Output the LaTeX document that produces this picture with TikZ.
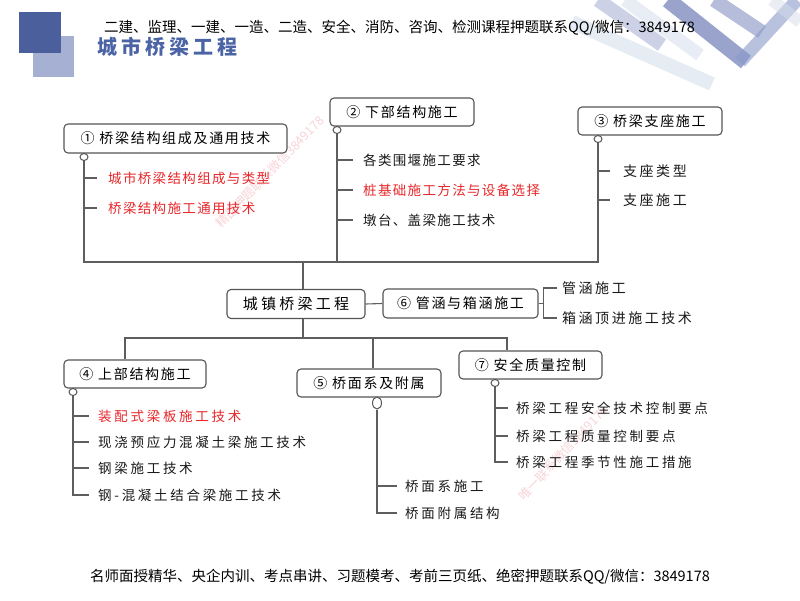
\documentclass[tikz,border=0pt]{standalone}
\usepackage{fontspec}
\setmainfont{Noto Sans CJK SC}
\usetikzlibrary{shapes.geometric}
\definecolor{boxc}{HTML}{555555}
\definecolor{linec}{HTML}{5E5E5E}
\definecolor{redc}{HTML}{E8262A}
\definecolor{titlec}{HTML}{4B64A6}
\definecolor{sqdark}{HTML}{4A5F9B}
\definecolor{sqlight}{HTML}{A5B0D2}
\definecolor{wmc}{HTML}{F0A0A8}
\definecolor{stA}{HTML}{C9D6E6}
\definecolor{stB}{HTML}{D3DAEA}
\definecolor{stC}{HTML}{8E9AC8}
\definecolor{stD}{HTML}{6E7DB5}
\definecolor{stE}{HTML}{7B88BF}
\definecolor{stF}{HTML}{8A9ACB}
\definecolor{stG}{HTML}{D6DCEA}
\newcommand\myls[1]{\addfontfeature{LetterSpace=#1}}
\newcommand\boxfont{\fontsize{14}{16}\selectfont\myls{12}}
\newcommand\itemfont{\fontsize{13.5}{16}\selectfont\myls{20}}
\newcommand\itemfonttop{\fontsize{13.5}{16}\selectfont\myls{10}}
\newcommand\itemfontmid{\fontsize{14}{16}\selectfont\myls{18}}
\begin{document}
\begin{tikzpicture}[x=1pt,y=-1pt,
  box/.style={draw=boxc, line width=1.1pt, rounded corners=4pt, fill=white,
    minimum height=28pt, inner sep=0pt, text=black, font=\boxfont},
  lnk/.style={draw=linec, line width=1.1pt},
  knob/.style={draw=boxc, line width=1pt, fill=white, ellipse,
    minimum width=8pt, minimum height=7pt, inner sep=0pt},
  item/.style={anchor=west, inner sep=0pt, text=black!90, font=\itemfont},
  itop/.style={item, font=\itemfonttop},
  imid/.style={item, font=\itemfontmid},
  hot/.style={text=redc},
  wm/.style={text=wmc, opacity=0.45, font=\fontsize{12.5}{14}\selectfont},
  stripe/.style={line cap=butt}
]
\useasboundingbox (0,0) rectangle (800,600);
\fill[white] (0,0) rectangle (800,600);

% decorative stripes
\draw[stripe, line width=14pt, draw=stA, opacity=0.45] (572,22) -- (712,84);
\draw[stripe, line width=13pt, draw=stB, opacity=0.5] (625,0) -- (700,55);
\draw[stripe, line width=14pt, draw=stC, opacity=0.45] (598,0) -- (662,45);
\draw[stripe, line width=16pt, draw=stD, opacity=0.7] (668,0) -- (746,62);
\draw[stripe, line width=14pt, draw=stE, opacity=0.55] (714,0) -- (762,32);
\draw[stripe, line width=13pt, draw=stF, opacity=0.6] (740,62) -- (797,0);
\draw[stripe, line width=12pt, draw=stG, opacity=0.5] (772,0) -- (800,22);

% corner squares
\fill[sqlight] (33,36) rectangle (74,77);
\fill[sqdark] (19,12) rectangle (61,53);

% header texts
\node[anchor=west, inner sep=0pt, font=\fontsize{14.5}{16}\selectfont] (hdr) at (104,28)
  {二建、监理、一建、一造、二造、安全、消防、咨询、检测课程押题联系QQ/微信：3849178};
\node[anchor=west, inner sep=0pt, text=titlec, font=\fontsize{20}{22}\selectfont\bfseries\myls{20}] (title) at (97,47)
  {城市桥梁工程};
\node[inner sep=0pt, font=\fontsize{14.5}{16}\selectfont] (ftr) at (400,577)
  {名师面授精华、央企内训、考点串讲、习题模考、考前三页纸、绝密押题联系QQ/微信：3849178};

% watermarks
\node[wm, rotate=46] (wm1) at (270,172) {精品押题联系微信3849178};
\node[wm, rotate=47] (wm2) at (563,453) {唯一联系微信3849178};

% boxes
\node[box, minimum width=223pt, minimum height=29pt] (n1) at (175.5,138.5) {① 桥梁结构组成及通用技术};
\node[box, minimum width=144pt] (n2) at (402,112) {② 下部结构施工};
\node[box, minimum width=144pt] (n3) at (650,121) {③ 桥梁支座施工};
\node[box, minimum width=138pt, minimum height=29pt, font=\fontsize{15}{17}\selectfont\myls{22}] (ctr) at (296,304) {城镇桥梁工程};
\node[box, minimum width=155pt, minimum height=29pt] (n6) at (460.5,303.5) {⑥ 管涵与箱涵施工};
\node[box, minimum width=142pt] (n4) at (135,374) {④ 上部结构施工};
\node[box, minimum width=144pt] (n5) at (369,383) {⑤ 桥面系及附属};
\node[box, minimum width=143pt] (n7) at (530.5,365) {⑦ 安全质量控制};

% bus coordinates
\coordinate (b1) at (303,262);
\coordinate (b2) at (303,338);
\coordinate (br) at ([xshift=5pt]n6.east);

% knobs
\node[knob] (k1) at (84,157) {};
\node[knob] (k2) at (337,130) {};
\node[knob] (k3) at (598,139) {};
\node[knob] (k4) at (73,392) {};
\node[knob, minimum width=9pt, minimum height=12pt] (k5) at (377,403) {};
\node[knob] (k7) at (495,383) {};

% items
\node[itop, hot] (s11) at (108,178) {城市桥梁结构组成与类型};
\node[itop, hot] (s12) at (108,208) {桥梁结构施工通用技术};
\node[itop] (s21) at (363,160) {各类围堰施工要求};
\node[itop, hot] (s22) at (363,190) {桩基础施工方法与设备选择};
\node[itop] (s23) at (363,220) {墩台、盖梁施工技术};
\node[imid] (s31) at (623,171) {支座类型};
\node[imid] (s32) at (623,200) {支座施工};
\node[imid] (s61) at (562,288) {管涵施工};
\node[imid] (s62) at (562,318) {箱涵顶进施工技术};
\node[item, hot] (s41) at (98,416) {装配式梁板施工技术};
\node[item] (s42) at (98,442) {现浇预应力混凝土梁施工技术};
\node[item] (s43) at (98,468) {钢梁施工技术};
\node[item] (s44) at (98,495) {钢-混凝土结合梁施工技术};
\node[item] (s51) at (405,486) {桥面系施工};
\node[item] (s52) at (405,513) {桥面附属结构};
\node[item] (s71) at (516,408) {桥梁工程安全技术控制要点};
\node[item] (s72) at (516,436) {桥梁工程质量控制要点};
\node[item] (s73) at (516,462) {桥梁工程季节性施工措施};

% upper tree
\draw[lnk] (k1.south) |- (b1);
\draw[lnk] (k3.south) |- (b1);
\draw[lnk] (k2.south) -- (k2.south |- b1);
\draw[lnk] (b1) -- (b1 |- ctr.north);
\draw[lnk] (k1 |- s11.west) -- ([xshift=-11pt]s11.west);
\draw[lnk] (k1 |- s12.west) -- ([xshift=-11pt]s12.west);
\draw[lnk] (k2 |- s21.west) -- ([xshift=-10pt]s21.west);
\draw[lnk] (k2 |- s22.west) -- ([xshift=-10pt]s22.west);
\draw[lnk] (k2 |- s23.west) -- ([xshift=-10pt]s23.west);
\draw[lnk] (k3 |- s31.west) -- ([xshift=-13pt]s31.west);
\draw[lnk] (k3 |- s32.west) -- ([xshift=-13pt]s32.west);

% side branch
\draw[lnk] (ctr.east) -- (n6.west);
\draw[lnk] (n6.east) -- (br);
\draw[lnk] ([xshift=-5pt]s61.west) -| (br) |- ([xshift=-5pt]s62.west);

% lower tree
\draw[lnk] (b2 |- ctr.south) -- (b2);
\draw[lnk] ([xshift=-10pt]n4.north) |- (b2);
\draw[lnk] ([xshift=-23.5pt]n7.north) |- (b2);
\draw[lnk] ([xshift=4pt]n5.north) -- ([xshift=4pt]n5.north |- b2);
\draw[lnk] (k4.south) |- ([xshift=-9pt]s44.west);
\draw[lnk] (k4 |- s41.west) -- ([xshift=-9pt]s41.west);
\draw[lnk] (k4 |- s42.west) -- ([xshift=-9pt]s42.west);
\draw[lnk] (k4 |- s43.west) -- ([xshift=-9pt]s43.west);
\draw[lnk] (k5.south) |- ([xshift=-8pt]s52.west);
\draw[lnk] (k5 |- s51.west) -- ([xshift=-8pt]s51.west);
\draw[lnk] (k7.south) |- ([xshift=-8pt]s73.west);
\draw[lnk] (k7 |- s71.west) -- ([xshift=-8pt]s71.west);
\draw[lnk] (k7 |- s72.west) -- ([xshift=-8pt]s72.west);
\end{tikzpicture}
\end{document}
